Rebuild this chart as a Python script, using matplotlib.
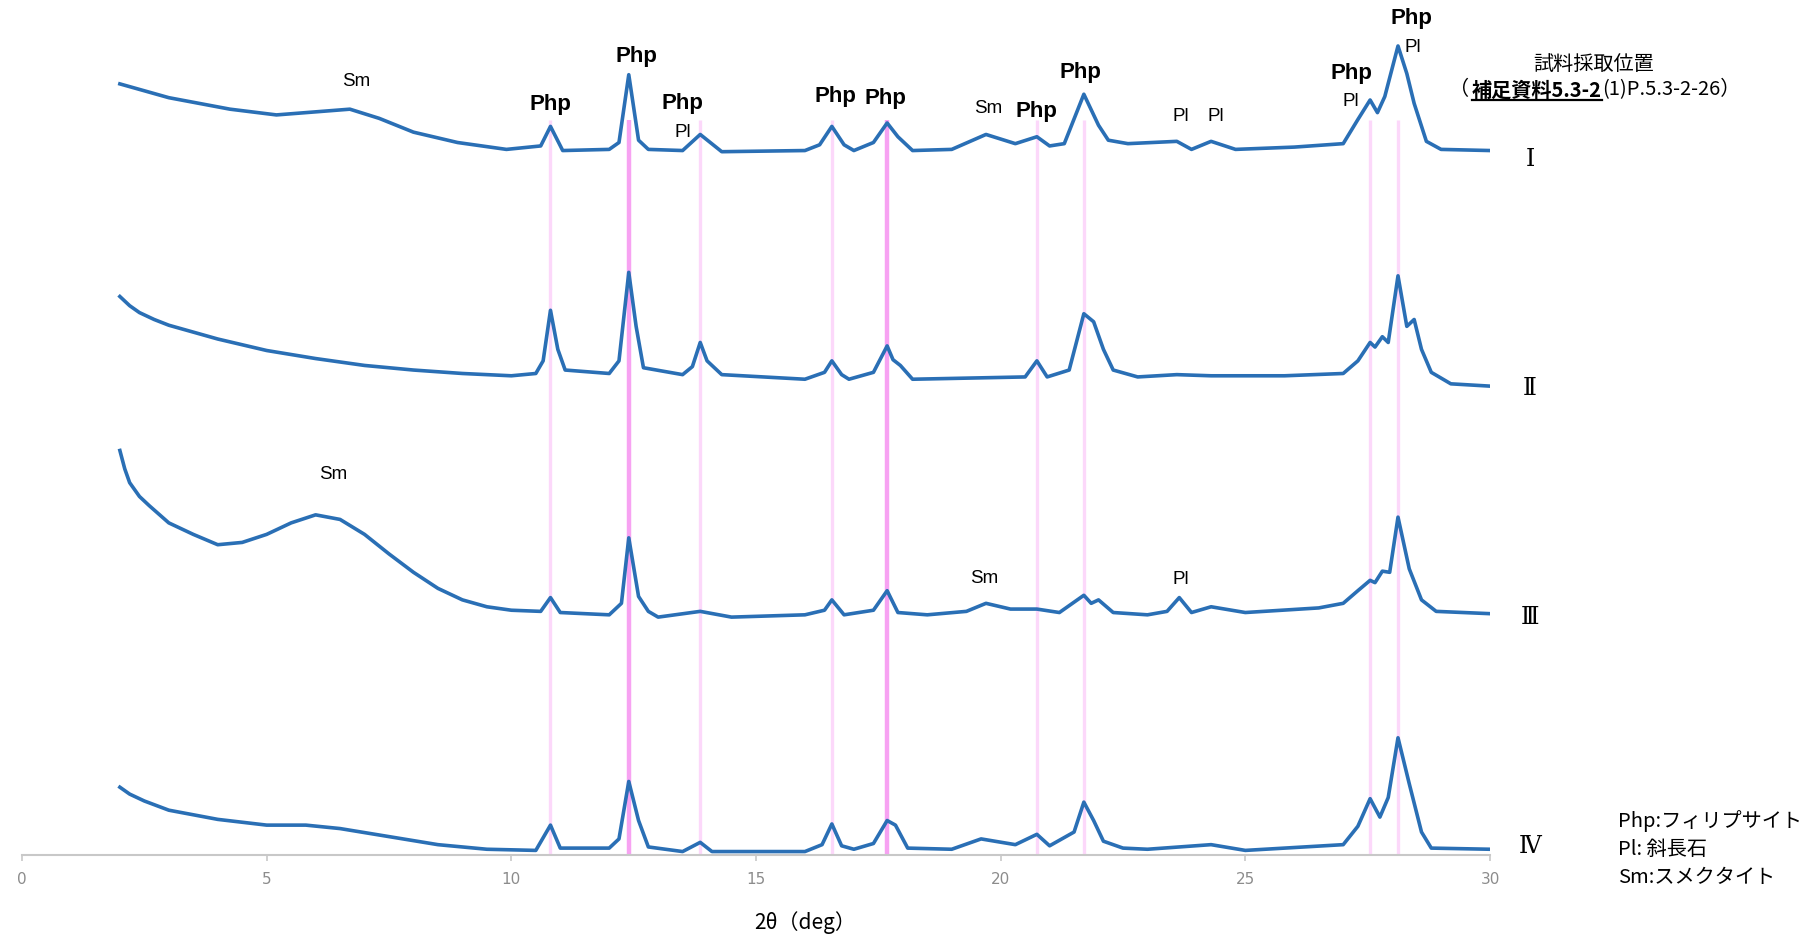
import matplotlib
matplotlib.use("Agg")
import matplotlib.pyplot as plt

# 2θ positions (deg) and read heights of each pattern (arbitrary units, stacked)
x1 = [2.0, 3.0, 4.25, 5.2, 6.1, 6.7, 7.3, 8.0, 8.9, 9.9, 10.6, 10.8, 11.05, 12.0, 12.2, 12.4, 12.6,
      12.8, 13.5, 13.86, 14.3, 16.0, 16.3, 16.55, 16.8, 17.0, 17.4, 17.68, 17.9, 18.2, 19.0, 19.7,
      20.3, 20.74, 21.0, 21.3, 21.7, 22.0, 22.2, 22.6, 23.6, 23.9, 24.3, 24.8, 26.0, 27.0, 27.3,
      27.55, 27.7, 27.85, 28.12, 28.3, 28.45, 28.7, 29.0, 30.0]
y1 = [671, 659, 649, 644, 647, 649, 641, 629, 620, 614, 617, 634, 613, 614, 620, 679, 622,
      614, 613, 627, 612, 613, 618, 634, 618, 613, 620, 637, 625, 613, 614, 627,
      619, 625, 617, 619, 662, 635, 622, 619, 621, 614, 621, 614, 616, 619, 640,
      657, 646, 660, 704, 680, 654, 621, 614, 613]

x2 = [2.0, 2.2, 2.4, 2.7, 3.0, 3.5, 4.0, 5.0, 6.0, 7.0, 8.0, 9.0, 10.0, 10.5, 10.65, 10.8, 10.95,
      11.1, 12.0, 12.2, 12.4, 12.55, 12.7, 13.5, 13.7, 13.86, 14.0, 14.3, 16.0, 16.4, 16.55, 16.75,
      16.9, 17.4, 17.68, 17.8, 17.95, 18.2, 20.5, 20.74, 20.95, 21.4, 21.7, 21.9, 22.1, 22.3, 22.8,
      23.6, 24.3, 25.8, 27.0, 27.3, 27.55, 27.65, 27.8, 27.92, 28.12, 28.3, 28.45, 28.6, 28.8, 29.2, 30.0]
y2 = [486, 478, 472, 466, 461, 455, 449, 439, 432, 426, 422, 419, 417, 419, 430, 474, 440,
      422, 419, 430, 507, 460, 424, 418, 425, 446, 430, 418, 414, 420, 430, 418,
      414, 420, 443, 431, 426, 414, 416, 430, 416, 422, 471, 464, 440, 422, 416,
      418, 417, 417, 419, 430, 446, 442, 451, 446, 504, 460, 466, 440, 420, 410, 408]

x3 = [2.0, 2.1, 2.2, 2.4, 2.6, 3.0, 3.5, 4.0, 4.5, 5.0, 5.5, 6.0, 6.5, 7.0, 7.5, 8.0, 8.5, 9.0,
      9.5, 10.0, 10.6, 10.8, 11.0, 12.0, 12.25, 12.4, 12.6, 12.8, 13.0, 13.86, 14.5, 16.0, 16.4,
      16.55, 16.8, 17.4, 17.68, 17.9, 18.5, 19.3, 19.7, 20.2, 20.74, 21.2, 21.7, 21.85, 22.0, 22.3,
      23.0, 23.4, 23.65, 23.9, 24.3, 25.0, 26.5, 27.0, 27.3, 27.55, 27.65, 27.8, 27.95, 28.12,
      28.35, 28.6, 28.9, 30.0]
y3 = [352, 336, 324, 312, 304, 289, 279, 270, 272, 279, 289, 296, 292, 279, 262, 246, 232, 222,
      216, 213, 212, 224, 211, 209, 219, 276, 225, 212, 207, 212, 207, 209, 213,
      222, 209, 213, 230, 211, 209, 212, 219, 214, 214, 211, 226, 219, 222, 211,
      209, 212, 224, 211, 216, 211, 215, 219, 230, 239, 237, 247, 246, 294,
      249, 222, 212, 210]

x4 = [2.0, 2.2, 2.5, 3.0, 4.0, 5.0, 5.8, 6.5, 7.5, 8.5, 9.5, 10.5, 10.8, 11.0, 12.0, 12.2, 12.4,
      12.6, 12.8, 13.5, 13.86, 14.1, 16.0, 16.35, 16.55, 16.75, 17.0, 17.4, 17.68, 17.85, 18.1,
      19.0, 19.6, 20.3, 20.74, 21.0, 21.5, 21.7, 21.9, 22.1, 22.5, 23.0, 24.3, 25.0, 27.0, 27.3,
      27.55, 27.75, 27.92, 28.12, 28.35, 28.6, 28.8, 30.0]
y4 = [59, 53, 47, 39, 31, 26, 26, 23, 16, 9, 5, 4, 26, 6, 6, 14, 64,
      30, 7, 3, 11, 3, 3, 9, 27, 8, 5, 10, 30, 26, 6,
      5, 14, 9, 18, 8, 20, 46, 30, 12, 6, 5, 9, 4, 9, 25,
      49, 33, 50, 102, 62, 20, 6, 5]

patterns = [(x1, y1), (x2, y2), (x3, y3), (x4, y4)]
numerals = ["Ⅰ", "Ⅱ", "Ⅲ", "Ⅳ"]
numeral_y = [605, 406, 207, 7]

# reference peak lines
peak_lines = [10.8, 12.4, 13.86, 16.55, 17.68, 20.74, 21.7, 27.55, 28.12]
strong_lines = [12.4, 17.68]

# peak labels: (text, 2θ, height, bold)
labels = [
    ("Sm", 6.83, 673, False), ("Php", 10.80, 653, True), ("Php", 12.56, 695, True),
    ("Php", 13.50, 654, True), ("Pl", 13.50, 629, False), ("Php", 16.62, 660, True),
    ("Php", 17.65, 658, True), ("Sm", 19.74, 650, False), ("Php", 20.73, 647, True),
    ("Php", 21.64, 681, True), ("Pl", 23.69, 643, False), ("Pl", 24.39, 643, False),
    ("Php", 27.16, 680, True), ("Pl", 27.16, 656, False), ("Php", 28.40, 728, True),
    ("Pl", 28.43, 703, False), ("Sm", 6.36, 331, False), ("Sm", 19.67, 241, False),
    ("Pl", 23.69, 240, False),
]

legend_lines = ["Php:フィリプサイト", "Pl: 斜長石", "Sm:スメクタイト"]

W, H = 1803, 940
jp = ["Noto Sans CJK JP", "DejaVu Sans"]

fig = plt.figure(figsize=(W / 100, H / 100), dpi=100)
ax = fig.add_axes([22 / W, 85 / H, 1468 / W, 855 / H])
ax.set_xlim(0, 30)
ax.set_ylim(0, 744)

for xp in peak_lines:
    if xp in strong_lines:
        ax.vlines(xp, 0, 640, color="#f7a2f2", lw=3.2, zorder=1)
    else:
        ax.vlines(xp, 0, 640, color="#fcd8fa", lw=2.4, zorder=1)

for (xs, ys), num, ny in zip(patterns, numerals, numeral_y):
    ax.plot(xs, ys, color="#2a6fb5", lw=2.6, zorder=3)
    ax.text(30.82, ny, num, fontsize=17, family=["DejaVu Serif", "Noto Sans CJK JP"],
            ha="center", va="center", clip_on=False)

for txt, xp, yp, bold in labels:
    if bold:
        ax.text(xp, yp, txt, fontsize=16, fontweight="bold", family="Liberation Sans",
                ha="center", va="center", zorder=4)
    else:
        ax.text(xp, yp, txt, fontsize=13.5, family="Liberation Sans",
                ha="center", va="center", zorder=4)

for s in ["top", "left", "right"]:
    ax.spines[s].set_visible(False)
ax.spines["bottom"].set_color("#c8c8c8")
ax.spines["bottom"].set_linewidth(1.5)
ax.set_yticks([])
ax.set_xticks(range(0, 31, 5))
ax.tick_params(axis="x", direction="out", length=4, width=1.2, color="#c8c8c8",
               labelcolor="#8c8c8c", labelsize=11, pad=8)

fig.text(805 / W, 1 - 923 / H, "2θ（deg）", family=jp, fontsize=15, ha="center", va="center")

# header
fig.text(1594 / W, 1 - 64 / H, "試料採取位置", family=jp, fontsize=14.5, ha="center", va="center")
yline = 1 - 90 / H
fig.text(1449 / W, yline, "（", family=jp, fontsize=14.5, ha="left", va="center")
fig.canvas.draw()
r = fig.canvas.get_renderer()
t2 = fig.text(1472 / W, yline, "補足資料5.3-2", family=jp, fontsize=14.5, fontweight="bold",
              ha="left", va="center")
bb = t2.get_window_extent(r)
fig.add_artist(plt.Line2D([bb.x0 / W, bb.x1 / W], [(bb.y0 + 1) / H, (bb.y0 + 1) / H],
                          color="black", lw=1.6))
fig.text(bb.x1 / W, yline, "(1)P.5.3-2-26）", family=jp, fontsize=14.5, ha="left", va="center")

for i, line in enumerate(legend_lines):
    fig.text(1618 / W, 1 - (821 + 28 * i) / H, line, family=jp, fontsize=14.5,
             ha="left", va="center")

fig.savefig("out.png", dpi=100)
